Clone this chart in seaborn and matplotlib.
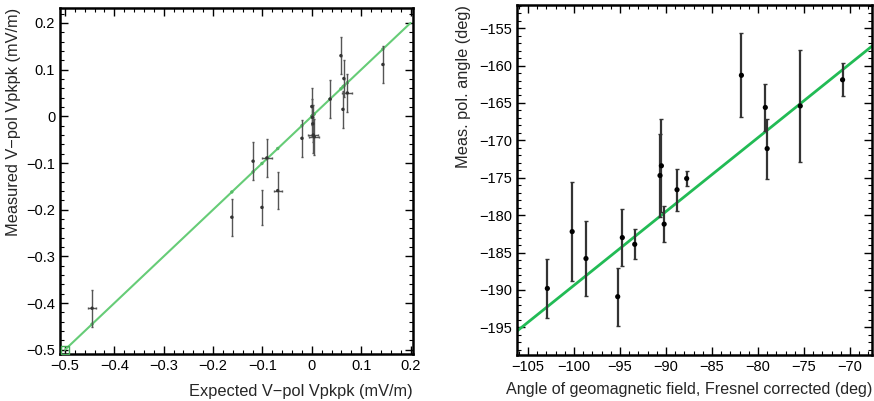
import matplotlib
matplotlib.use("Agg")
import matplotlib.pyplot as plt
import seaborn as sns
import numpy as np
import pandas as pd
from matplotlib.ticker import MultipleLocator

# ---- Left panel data ----
exp_x = [-0.445, -0.162, -0.119, -0.101, -0.091, -0.069, -0.020, 0.000, 0.001, 0.002,
         0.003, 0.005, 0.037, 0.059, 0.063, 0.065, 0.072, 0.144]
meas_y = [-0.411, -0.216, -0.096, -0.195, -0.089, -0.159, -0.047, 0.021, -0.002, -0.016,
          -0.040, -0.044, 0.037, 0.130, 0.015, 0.081, 0.050, 0.111]
meas_err = [0.040, 0.040, 0.040, 0.038, 0.040, 0.040, 0.040, 0.040, 0.040, 0.040,
            0.038, 0.038, 0.040, 0.040, 0.040, 0.040, 0.040, 0.040]
exp_err = [0.008, 0.0, 0.0, 0.0, 0.010, 0.008, 0.0, 0.0, 0.0, 0.0,
           0.010, 0.010, 0.0, 0.0, 0.0, 0.0, 0.010, 0.0]
line_left = [-0.5, 0.2]

# ---- Right panel data ----
geo_x = [-102.9, -100.2, -98.7, -95.25, -94.75, -93.4, -90.65, -90.5, -90.2, -88.8,
         -87.75, -81.8, -79.2, -79.0, -75.4, -70.8]
pol_y = [-189.8, -182.2, -185.8, -190.9, -183.0, -183.9, -174.7, -173.4, -181.2, -176.6,
         -175.1, -161.3, -165.6, -171.1, -165.4, -161.9]
pol_err = [4.0, 6.6, 5.0, 3.9, 3.8, 2.0, 5.6, 6.2, 2.4, 2.8,
           1.0, 5.6, 3.2, 4.0, 7.5, 2.2]
fit_x = [-106.2, -67.6]
fit_y = [-195.5, -157.4]

sns.set_theme(style="ticks")
plt.rcParams['font.family'] = ['Liberation Sans', 'DejaVu Sans']

W, H = 874, 401
fig = plt.figure(figsize=(W / 100, H / 100), dpi=100)
axL = fig.add_axes([60 / W, (H - 354) / H, (413 - 60) / W, (354 - 8) / H])
axR = fig.add_axes([517 / W, (H - 355) / H, (872 - 517) / W, (355 - 5) / H])

# Left panel
dfL = pd.DataFrame({"x": exp_x, "y": meas_y})
sns.lineplot(x=line_left, y=line_left, ax=axL, color="#66cc77", lw=1.5, zorder=2)
sns.scatterplot(x=exp_x, y=exp_x, ax=axL, color="#55bb66", s=6, edgecolor="none", zorder=3)
axL.plot([line_left[0]], [line_left[0]], marker="s", mfc="none", mec="#44aa55", ms=6, zorder=3)
axL.errorbar(exp_x, meas_y, yerr=meas_err, xerr=exp_err, fmt="none", ecolor="#555555",
             elinewidth=1.0, capsize=0.8, zorder=4)
sns.scatterplot(data=dfL, x="x", y="y", ax=axL, color="#333333", s=6, edgecolor="none", zorder=5)
axL.set_xlim(-0.51, 0.205)
axL.set_ylim(-0.509, 0.232)
axL.xaxis.set_minor_locator(MultipleLocator(0.02))
axL.yaxis.set_minor_locator(MultipleLocator(0.02))
axL.set_xticks(np.round(np.arange(-0.5, 0.21, 0.1), 1))
axL.set_xticklabels(["−0.5", "−0.4", "−0.3", "−0.2", "−0.1", "0", "0.1", "0.2"])
axL.set_yticks(np.round(np.arange(-0.5, 0.21, 0.1), 1))
axL.set_yticklabels(["−0.5", "−0.4", "−0.3", "−0.2", "−0.1", "0", "0.1", "0.2"])
axL.set_xlabel("Expected V−pol Vpkpk (mV/m)", fontsize=11.8, loc="right", labelpad=8)
axL.set_ylabel("Measured V−pol Vpkpk (mV/m)", fontsize=11.8, loc="top", labelpad=4)

# Right panel
dfR = pd.DataFrame({"x": geo_x, "y": pol_y})
sns.lineplot(x=fit_x, y=fit_y, ax=axR, color="#22bb55", lw=2.0, zorder=2)
axR.errorbar(geo_x, pol_y, yerr=pol_err, fmt="none", ecolor="#333333",
             elinewidth=1.6, capsize=1.5, zorder=4)
sns.scatterplot(data=dfR, x="x", y="y", ax=axR, color="black", s=14, edgecolor="none", zorder=5)
axR.set_xlim(-106.2, -67.6)
axR.set_ylim(-198.7, -151.9)
axR.xaxis.set_minor_locator(MultipleLocator(1))
axR.yaxis.set_minor_locator(MultipleLocator(1))
xt = list(range(-105, -69, 5))
axR.set_xticks(xt)
axR.set_xticklabels([str(v).replace("-", "−") for v in xt])
yt = list(range(-195, -154, 5))
axR.set_yticks(yt)
axR.set_yticklabels([str(v).replace("-", "−") for v in yt])
axR.set_xlabel("Angle of geomagnetic field, Fresnel corrected (deg)", fontsize=11.6, loc="right", labelpad=6)
axR.set_ylabel("Meas. pol. angle (deg)", fontsize=11.8, loc="top", labelpad=6)

for ax in (axL, axR):
    for sp in ax.spines.values():
        sp.set_visible(True)
        sp.set_linewidth(1.8)
        sp.set_color("black")
    ax.tick_params(which="both", direction="in", top=True, right=True, labelsize=10.5, colors="black")
    ax.tick_params(which="major", length=6, width=1.0)
    ax.tick_params(which="minor", length=3, width=0.8)
    ax.grid(False)

fig.savefig("out.png", dpi=100)
